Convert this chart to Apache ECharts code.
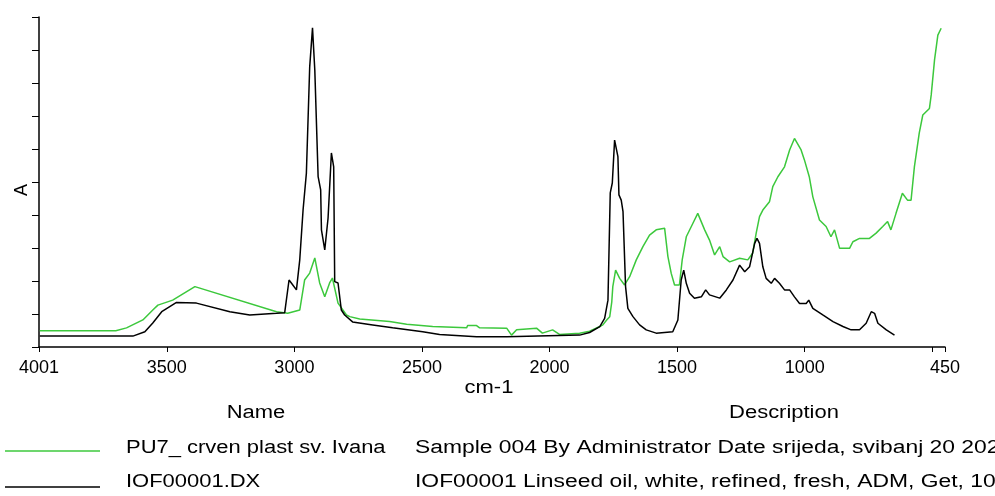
<!DOCTYPE html>
<html>
<head>
<meta charset="utf-8">
<script src="https://cdn.jsdelivr.net/npm/echarts@6/dist/echarts.min.js"></script>
<style>
  html, body { margin: 0; padding: 0; background: #fff; }
  #chart { width: 995px; height: 496px; }
</style>
</head>
<body>
<div id="chart"></div>
<script>
// wavenumber (cm-1) and absorbance
const greenWn = [3998, 3700, 3658, 3594, 3555, 3535, 3477, 3390, 3070, 3026, 2979, 2960, 2940, 2920, 2901, 2881, 2862, 2851, 2829, 2796,
  2783, 2744, 2627, 2560, 2458, 2325, 2321, 2286, 2274, 2168, 2164, 2149, 2129, 2051, 2028, 1988, 1961, 1882, 1843, 1803,
  1791, 1776, 1764, 1756, 1752, 1741, 1725, 1706, 1686, 1660, 1634, 1608, 1582, 1549, 1536, 1523, 1510, 1491, 1480, 1464,
  1438, 1419, 1392, 1373, 1353, 1333, 1320, 1294, 1255, 1223, 1204, 1190, 1177, 1164, 1138, 1125, 1105, 1079, 1059, 1040,
  1014, 1001, 982, 968, 942, 916, 897, 883, 863, 824, 811, 785, 746, 720, 694, 675, 662, 642, 617, 597,
  583, 570, 551, 537, 511, 504, 491, 478, 465];
const greenA = [0.049, 0.049, 0.058, 0.082, 0.112, 0.127, 0.142, 0.183, 0.107, 0.102, 0.112, 0.203, 0.224, 0.270, 0.194, 0.152, 0.194, 0.209, 0.133, 0.097,
  0.092, 0.085, 0.077, 0.069, 0.062, 0.058, 0.065, 0.065, 0.058, 0.057, 0.062, 0.036, 0.052, 0.057, 0.042, 0.052, 0.038, 0.042, 0.048, 0.062,
  0.067, 0.082, 0.092, 0.137, 0.183, 0.233, 0.208, 0.188, 0.213, 0.264, 0.304, 0.339, 0.355, 0.360, 0.274, 0.223, 0.188, 0.188, 0.264, 0.334,
  0.375, 0.405, 0.355, 0.324, 0.279, 0.304, 0.274, 0.258, 0.269, 0.264, 0.284, 0.345, 0.395, 0.415, 0.440, 0.486, 0.516, 0.546, 0.597, 0.632,
  0.597, 0.567, 0.516, 0.455, 0.385, 0.365, 0.334, 0.355, 0.299, 0.299, 0.319, 0.329, 0.329, 0.345, 0.365, 0.380, 0.355, 0.405, 0.466, 0.445,
  0.445, 0.546, 0.648, 0.703, 0.723, 0.764, 0.870, 0.945, 0.966];

const blackWn = [3998, 3633, 3586, 3555, 3520, 3462, 3384, 3253, 3175, 3070, 3038, 3021, 3012, 2992, 2979, 2966, 2953, 2940, 2929, 2920,
  2907, 2897, 2894, 2881, 2868, 2855, 2846, 2842, 2829, 2816, 2803, 2772, 2693, 2615, 2497, 2431, 2286, 2168, 1882, 1843,
  1803, 1784, 1771, 1762, 1754, 1745, 1738, 1732, 1728, 1719, 1712, 1702, 1693, 1673, 1647, 1621, 1582, 1517, 1497, 1484,
  1474, 1464, 1451, 1432, 1405, 1388, 1373, 1333, 1307, 1281, 1255, 1235, 1216, 1196, 1187, 1177, 1164, 1151, 1131, 1118,
  1099, 1079, 1059, 1040, 1020, 994, 984, 968, 929, 889, 850, 818, 785, 759, 739, 726, 713, 680, 648];
const blackA = [0.033, 0.033, 0.046, 0.073, 0.107, 0.135, 0.133, 0.107, 0.097, 0.102, 0.104, 0.203, 0.194, 0.173, 0.264, 0.415, 0.527, 0.849, 0.967, 0.839,
  0.516, 0.476, 0.355, 0.294, 0.391, 0.588, 0.546, 0.198, 0.194, 0.112, 0.097, 0.076, 0.067, 0.058, 0.046, 0.038, 0.031, 0.031, 0.036, 0.044,
  0.062, 0.087, 0.142, 0.467, 0.497, 0.627, 0.627, 0.577, 0.461, 0.445, 0.410, 0.183, 0.117, 0.092, 0.067, 0.052, 0.042, 0.046, 0.082, 0.203,
  0.233, 0.193, 0.163, 0.148, 0.152, 0.173, 0.158, 0.148, 0.173, 0.203, 0.248, 0.228, 0.243, 0.314, 0.329, 0.314, 0.243, 0.208, 0.193, 0.208,
  0.193, 0.173, 0.173, 0.152, 0.132, 0.132, 0.142, 0.117, 0.097, 0.077, 0.062, 0.052, 0.052, 0.072, 0.107, 0.102, 0.072, 0.052, 0.036];

const xLabels = [4001, 3500, 3000, 2500, 2000, 1500, 1000, 450];
const xTicks = [4001, 3500, 3000, 2500, 2000, 1500, 1000, 500, 450];

const names = ['PU7_ crven plast sv. Ivana', 'IOF00001.DX'];
const descriptions = [
  'Sample 004 By Administrator Date srijeda, svibanj 20 2020',
  'IOF00001 Linseed oil, white, refined, fresh, ADM, Get, 100%'
];
const colors = ['#3cc83c', '#000000'];

const zip = (xs, ys) => xs.map((x, i) => [x, ys[i]]);

const font = 'Liberation Sans, Arial, sans-serif';

// text drawn a bit wider, like the original dialog font
function label(text, x, y, align, stretch) {
  return {
    type: 'text', x: x, y: y, scaleX: stretch || 1.22,
    style: {
      text: text, font: '18px ' + font, fill: '#000',
      align: align || 'left', verticalAlign: 'middle',
      textAlign: align || 'left', textVerticalAlign: 'middle'
    }
  };
}

const chart = echarts.init(document.getElementById('chart'));

const legendRows = [];
names.forEach((n, i) => {
  const lineY = [451, 487][i];
  const textY = [448, 482][i];
  legendRows.push(
    { type: 'line', shape: { x1: 5, y1: lineY, x2: 100, y2: lineY }, style: { stroke: colors[i], lineWidth: 1.5 } },
    label(n, 126, textY),
    label(descriptions[i], 415, textY, 'left', 1.27)
  );
});

chart.setOption({
  animation: false,
  backgroundColor: '#fff',
  grid: { left: 39, right: 50, top: 17, bottom: 149 },
  xAxis: {
    type: 'value',
    inverse: true,
    min: 450,
    max: 4001,
    axisLine: { lineStyle: { color: '#000', width: 1.5 } },
    axisTick: { customValues: xTicks, length: 5, lineStyle: { color: '#000' } },
    axisLabel: {
      customValues: xLabels, formatter: v => String(v),
      fontFamily: font, fontSize: 18, color: '#000', margin: 12
    },
    splitLine: { show: false }
  },
  yAxis: {
    type: 'value',
    min: 0,
    max: 1,
    interval: 0.1,
    axisLine: { show: true, lineStyle: { color: '#000', width: 1.5 } },
    axisTick: { show: true, length: 7, lineStyle: { color: '#000' } },
    axisLabel: { show: false },
    splitLine: { show: false }
  },
  graphic: [
    Object.assign(label('A', 22, 190, 'center'), { rotation: Math.PI / 2, scaleX: 1 }),
    label('cm-1', 489, 388, 'center'),
    label('Name', 256, 413, 'center'),
    label('Description', 784, 413, 'center'),
    ...legendRows
  ],
  series: [
    {
      name: names[0], type: 'line', data: zip(greenWn, greenA), symbol: 'none',
      lineStyle: { color: colors[0], width: 1.5 }, z: 2
    },
    {
      name: names[1], type: 'line', data: zip(blackWn, blackA), symbol: 'none',
      lineStyle: { color: colors[1], width: 1.5 }, z: 3
    }
  ]
});
</script>
</body>
</html>
